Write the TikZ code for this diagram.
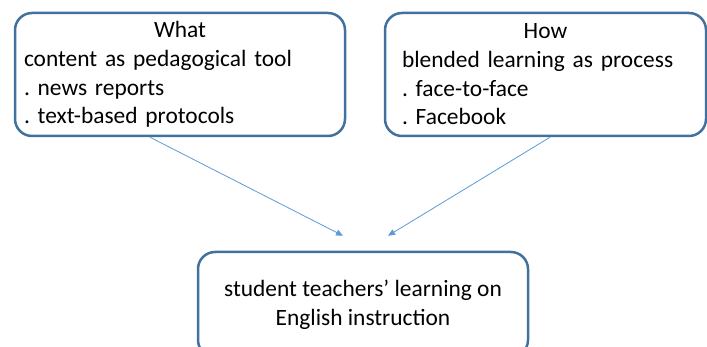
\documentclass[tikz,border=0pt]{standalone}
\usepackage{fontspec}
\setmainfont{Carlito}
\frenchspacing
\usetikzlibrary{arrows.meta}
\definecolor{boxline}{RGB}{65,113,156}
\definecolor{arrline}{RGB}{91,155,213}
\begin{document}
\begin{tikzpicture}[x=1pt,y=-1pt,
    card/.style={draw=boxline,line width=2.5pt,rounded corners=17pt,inner sep=0pt,
      minimum height=123pt,font=\fontsize{23.4}{28.7}\selectfont},
    link/.style={draw=arrline,line width=0.8pt,-{Triangle[length=7pt,width=6pt]}}]
  \useasboundingbox (0,0) rectangle (707,347);
  % the two sources
  \node[card,minimum width=330pt,text width=312pt,align=left] (what) at (180,74.5)
    {\makebox[\linewidth]{What}\\content as pedagogical tool\\. news reports\\. text-based protocols};
  \node[card,minimum width=321pt,text width=287pt,align=left] (how) at (545.5,74.5)
    {\makebox[\linewidth]{How}\\blended learning as process\\. face-to-face\\. Facebook};
  % the outcome
  \node[card,minimum width=330pt,minimum height=105pt,align=center] (res) at (363,304.5)
    {student teachers’ learning on\\English instruction};
  \coordinate (tipL) at ([xshift=-20pt,yshift=15pt]res.north);
  \coordinate (tipR) at ([xshift=25pt,yshift=15pt]res.north);
  \draw[link] ([xshift=-30pt]what.south) -- (tipL);
  \draw[link] ([xshift=4.5pt]how.south) -- (tipR);
\end{tikzpicture}
\end{document}
